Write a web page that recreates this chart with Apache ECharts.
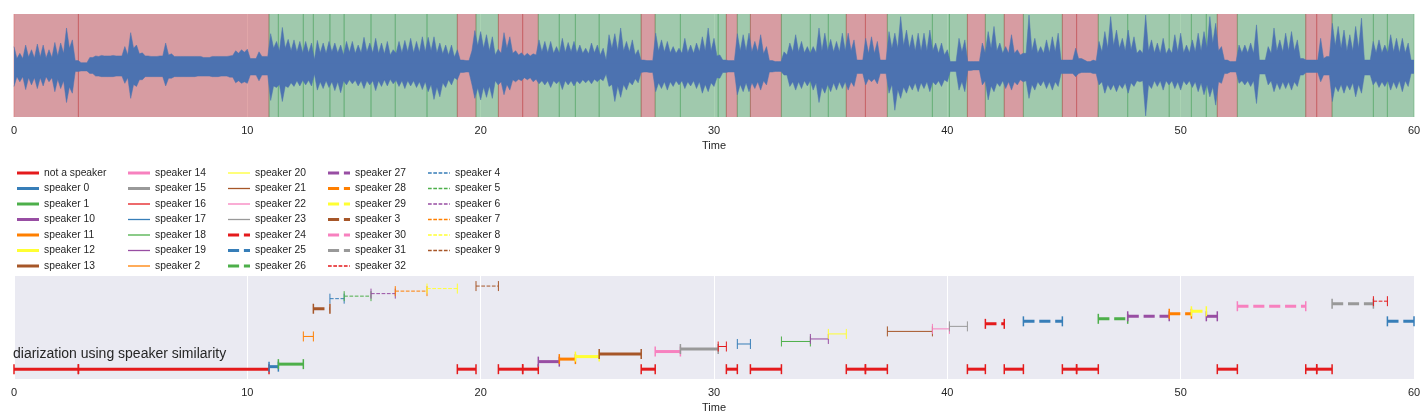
<!DOCTYPE html>
<html>
<head>
<meta charset="utf-8">
<script src="https://cdn.jsdelivr.net/npm/echarts@6/dist/echarts.min.js"></script>
<style>
html, body { margin: 0; padding: 0; background: #fff; }
#main { width: 1428px; height: 420px; }
</style>
</head>
<body>
<div id="main"></div>
<script>
// waveform envelope: a peak every 0.25 s and the dip between two peaks
var timeStep = 0.25;
var upperPeak = [
    0.38,0.25,0.41,0.32,0.43,0.41,0.32,0.46,0.45,0.74, 0.51,0.11,0.07,0.17,0.20,0.21,0.20,0.21,0.20,0.38,
    0.65,0.41,0.26,0.20,0.19,0.20,0.45,0.24,0.19,0.19, 0.19,0.19,0.19,0.17,0.19,0.19,0.19,0.20,0.30,0.32,
    0.33,0.15,0.28,0.19,0.63,0.48,0.75,0.52,
    0.51,0.48,0.48,0.45,0.50,0.45,0.48,0.45,0.41,0.48, 0.48,0.41,0.56,0.45,0.54,0.45,0.48,0.32,0.48,0.50,
    0.54,0.48,0.57,0.56,0.57,0.45,0.41,0.41,0.32,0.12, 0.11,0.69,0.67,0.61,0.57,0.33,0.65,0.57,0.30,0.26,
    0.25,0.24,0.51,0.48,0.48,0.38,0.54,0.46,
    0.48,0.41,0.35,0.45,0.41,0.35,0.61,0.63,0.74,0.48, 0.51,0.32,0.12,0.11,0.64,0.51,0.48,0.38,0.35,0.54,
    0.41,0.45,0.57,0.74,0.54,0.22,0.12,0.11,0.63,0.61, 0.64,0.48,0.61,0.38,0.11,0.09,0.28,0.45,0.61,0.48,
    0.38,0.38,0.74,0.64,0.52,0.48,0.64,0.64,
    0.51,0.12,0.54,0.57,0.48,0.12,0.67,0.64,0.96,0.70, 0.61,0.64,0.64,0.70,0.45,0.45,0.32,0.09,0.54,0.51,
    0.09,0.09,0.45,0.67,0.77,0.45,0.38,0.61,0.32,0.25, 0.99,0.54,0.38,0.51,0.57,0.64,0.12,0.12,0.35,0.15,
    0.09,0.12,0.48,0.67,0.96,0.70,0.54,0.70,
    0.57,0.32,0.99,0.51,0.45,0.54,0.35,0.61,0.64,0.41, 0.51,0.64,0.67,0.96,0.83,0.38,0.12,0.09,0.41,0.41,
    0.45,0.80,0.12,0.38,0.74,0.51,0.64,0.67,0.51,0.15, 0.12,0.12,0.54,0.19,0.83,0.77,0.70,0.61,0.77,0.93,
    0.12,0.48,0.51,0.41,0.61,0.54,0.54,0.45,0.12
];
var upperDip = [
    0.15,0.15,0.18,0.16,0.18,0.16,0.17,0.20,0.25,0.35, 0.11,0.07,0.07,0.17,0.19,0.20,0.20,0.20,0.20,0.22,
    0.35,0.24,0.20,0.19,0.19,0.20,0.22,0.19,0.19,0.19, 0.19,0.19,0.17,0.17,0.19,0.19,0.19,0.21,0.25,0.27,
    0.15,0.15,0.19,0.19,0.35,0.30,0.35,0.30,
    0.28,0.26,0.26,0.13,0.26,0.25,0.28,0.26,0.22,0.27, 0.25,0.26,0.28,0.26,0.25,0.24,0.22,0.25,0.26,0.28,
    0.26,0.27,0.28,0.30,0.26,0.24,0.22,0.18,0.12,0.11, 0.30,0.40,0.35,0.30,0.22,0.25,0.35,0.25,0.22,0.20,
    0.20,0.22,0.28,0.26,0.25,0.25,0.27,0.28,
    0.26,0.25,0.24,0.26,0.22,0.12,0.35,0.30,0.30,0.28, 0.22,0.12,0.11,0.11,0.30,0.28,0.26,0.25,0.25,0.26,
    0.25,0.28,0.30,0.30,0.20,0.12,0.11,0.11,0.30,0.30, 0.28,0.28,0.24,0.11,0.09,0.09,0.22,0.28,0.28,0.26,
    0.25,0.26,0.30,0.30,0.28,0.28,0.30,0.30,
    0.12,0.12,0.25,0.25,0.12,0.12,0.35,0.35,0.40,0.35, 0.30,0.30,0.30,0.30,0.25,0.22,0.09,0.09,0.28,0.09,
    0.09,0.09,0.25,0.35,0.30,0.25,0.25,0.25,0.22,0.25, 0.30,0.25,0.25,0.26,0.28,0.12,0.12,0.12,0.15,0.12,
    0.09,0.10,0.28,0.35,0.40,0.35,0.30,0.32,
    0.25,0.25,0.30,0.26,0.25,0.24,0.25,0.28,0.26,0.26, 0.28,0.30,0.35,0.45,0.30,0.12,0.09,0.09,0.26,0.26,
    0.25,0.12,0.12,0.25,0.30,0.28,0.30,0.30,0.15,0.12, 0.12,0.12,0.15,0.19,0.40,0.35,0.30,0.30,0.35,0.12,
    0.12,0.26,0.26,0.26,0.28,0.26,0.26,0.12
];
var lowerPeak = [
    -0.39,-0.30,-0.45,-0.36,-0.43,-0.38,-0.30,-0.49,-0.43,-0.70, -0.52,-0.10,-0.09,-0.14,-0.19,-0.20,-0.20,-0.20,-0.19,-0.33,
    -0.62,-0.39,-0.26,-0.20,-0.20,-0.20,-0.38,-0.23,-0.20,-0.20, -0.20,-0.20,-0.19,-0.19,-0.20,-0.20,-0.19,-0.21,-0.32,-0.33,
    -0.33,-0.17,-0.28,-0.17,-0.66,-0.41,-0.68,-0.41,
    -0.39,-0.38,-0.36,-0.38,-0.46,-0.43,-0.41,-0.47,-0.51,-0.36, -0.34,-0.38,-0.43,-0.36,-0.47,-0.39,-0.38,-0.34,-0.39,-0.43,
    -0.38,-0.41,-0.45,-0.49,-0.64,-0.59,-0.41,-0.36,-0.26,-0.12, -0.11,-0.62,-0.65,-0.60,-0.62,-0.36,-0.55,-0.46,-0.30,-0.28,
    -0.26,-0.30,-0.34,-0.36,-0.41,-0.34,-0.45,-0.36,
    -0.38,-0.34,-0.32,-0.34,-0.30,-0.28,-0.39,-0.68,-0.60,-0.46, -0.36,-0.32,-0.11,-0.12,-0.49,-0.43,-0.46,-0.39,-0.36,-0.43,
    -0.38,-0.43,-0.52,-0.49,-0.39,-0.23,-0.12,-0.11,-0.55,-0.49, -0.49,-0.43,-0.46,-0.36,-0.11,-0.10,-0.17,-0.39,-0.46,-0.43,
    -0.38,-0.46,-0.70,-0.52,-0.49,-0.46,-0.43,-0.46,
    -0.39,-0.14,-0.36,-0.30,-0.34,-0.14,-0.52,-0.85,-0.62,-0.52, -0.46,-0.49,-0.43,-0.49,-0.36,-0.39,-0.30,-0.10,-0.46,-0.49,
    -0.08,-0.07,-0.36,-0.65,-0.49,-0.39,-0.43,-0.46,-0.36,-0.30, -0.62,-0.46,-0.38,-0.43,-0.46,-0.39,-0.14,-0.14,-0.20,-0.12,
    -0.12,-0.14,-0.36,-0.52,-0.46,-0.49,-0.43,-0.52,
    -0.39,-0.30,-0.96,-0.43,-0.39,-0.46,-0.36,-0.43,-0.46,-0.36, -0.41,-0.49,-0.55,-0.59,-0.75,-0.33,-0.14,-0.11,-0.33,-0.36,
    -0.39,-0.72,-0.15,-0.36,-0.49,-0.45,-0.43,-0.46,-0.39,-0.17, -0.12,-0.12,-0.30,-0.17,-0.68,-0.49,-0.52,-0.46,-0.59,-0.52,
    -0.17,-0.36,-0.41,-0.39,-0.46,-0.43,-0.49,-0.39,-0.14
];
var lowerDip = [
    -0.20,-0.20,-0.22,-0.22,-0.22,-0.20,-0.22,-0.25,-0.28,-0.40, -0.10,-0.09,-0.09,-0.14,-0.19,-0.20,-0.20,-0.19,-0.19,-0.22,
    -0.35,-0.26,-0.20,-0.20,-0.20,-0.20,-0.23,-0.20,-0.20,-0.20, -0.20,-0.19,-0.19,-0.19,-0.20,-0.19,-0.19,-0.21,-0.28,-0.30,
    -0.17,-0.17,-0.17,-0.17,-0.38,-0.35,-0.38,-0.32,
    -0.28,-0.27,-0.27,-0.15,-0.30,-0.28,-0.30,-0.30,-0.28,-0.26, -0.27,-0.28,-0.28,-0.28,-0.28,-0.26,-0.25,-0.27,-0.28,-0.28,
    -0.28,-0.30,-0.30,-0.35,-0.40,-0.32,-0.26,-0.22,-0.12,-0.11, -0.35,-0.42,-0.40,-0.38,-0.28,-0.30,-0.35,-0.26,-0.25,-0.22,
    -0.22,-0.25,-0.28,-0.28,-0.28,-0.28,-0.28,-0.28,
    -0.28,-0.26,-0.26,-0.25,-0.24,-0.15,-0.35,-0.38,-0.35,-0.30, -0.24,-0.12,-0.11,-0.12,-0.32,-0.30,-0.30,-0.28,-0.28,-0.30,
    -0.28,-0.30,-0.35,-0.32,-0.22,-0.12,-0.11,-0.11,-0.35,-0.32, -0.32,-0.30,-0.28,-0.11,-0.10,-0.10,-0.17,-0.30,-0.30,-0.28,
    -0.28,-0.32,-0.40,-0.35,-0.32,-0.30,-0.30,-0.30,
    -0.14,-0.14,-0.24,-0.24,-0.14,-0.14,-0.35,-0.45,-0.40,-0.35, -0.32,-0.32,-0.30,-0.30,-0.28,-0.26,-0.10,-0.10,-0.30,-0.08,
    -0.07,-0.07,-0.28,-0.38,-0.32,-0.28,-0.30,-0.30,-0.26,-0.28, -0.35,-0.30,-0.28,-0.30,-0.30,-0.14,-0.14,-0.14,-0.14,-0.12,
    -0.12,-0.14,-0.30,-0.35,-0.35,-0.35,-0.32,-0.32,
    -0.28,-0.28,-0.35,-0.28,-0.28,-0.28,-0.28,-0.30,-0.28,-0.28, -0.30,-0.32,-0.35,-0.40,-0.30,-0.14,-0.11,-0.11,-0.28,-0.28,
    -0.28,-0.15,-0.15,-0.28,-0.32,-0.30,-0.30,-0.30,-0.17,-0.12, -0.12,-0.12,-0.17,-0.17,-0.38,-0.35,-0.35,-0.32,-0.35,-0.17,
    -0.17,-0.28,-0.30,-0.28,-0.30,-0.28,-0.28,-0.14
];

// labels in legend order (the row of each label is its position here)
var speakerLabels = ['not a speaker','speaker 0','speaker 1','speaker 10','speaker 11','speaker 12','speaker 13',
    'speaker 14','speaker 15','speaker 16','speaker 17','speaker 18','speaker 19','speaker 2',
    'speaker 20','speaker 21','speaker 22','speaker 23','speaker 24','speaker 25','speaker 26',
    'speaker 27','speaker 28','speaker 29','speaker 3','speaker 30','speaker 31','speaker 32',
    'speaker 4','speaker 5','speaker 6','speaker 7','speaker 8','speaker 9'];

// diarization segments (seconds)
var segStart = [0, 2.76, 10.93, 11.33, 12.40, 12.83, 13.54, 14.15, 15.30, 16.34,
    17.70, 19.00, 19.80, 20.76, 21.80, 22.47, 23.37, 24.06, 25.08, 26.88,
    27.48, 28.56, 30.18, 30.53, 31.00, 31.56, 32.89, 34.13, 34.90, 35.67,
    36.49, 37.43, 39.36, 40.09, 40.86, 41.63, 42.44, 43.26, 44.93, 45.54,
    46.47, 47.73, 49.51, 50.46, 51.10, 51.57, 52.43, 55.36, 55.83, 56.49,
    58.26, 58.86];
var segEnd = [2.76, 10.93, 11.33, 12.40, 12.83, 13.54, 14.15, 15.30, 16.34, 17.70,
    19.00, 19.80, 20.76, 21.80, 22.47, 23.37, 24.06, 25.08, 26.88, 27.48,
    28.56, 30.18, 30.53, 31.00, 31.56, 32.89, 34.13, 34.90, 35.67, 36.49,
    37.43, 39.36, 40.09, 40.86, 41.63, 42.44, 43.26, 44.93, 45.54, 46.47,
    47.73, 49.51, 50.46, 51.10, 51.57, 52.43, 55.36, 55.83, 56.49, 58.26,
    58.86, 60.00];
var segLabel = ['not a speaker','not a speaker','speaker 0','speaker 1','speaker 2','speaker 3','speaker 4','speaker 5','speaker 6','speaker 7',
    'speaker 8','not a speaker','speaker 9','not a speaker','not a speaker','speaker 10','speaker 11','speaker 12','speaker 13','not a speaker',
    'speaker 14','speaker 15','speaker 16','not a speaker','speaker 17','not a speaker','speaker 18','speaker 19','speaker 20','not a speaker',
    'not a speaker','speaker 21','speaker 22','speaker 23','not a speaker','speaker 24','not a speaker','speaker 25','not a speaker','not a speaker',
    'speaker 26','speaker 27','speaker 28','speaker 29','speaker 27','not a speaker','speaker 30','not a speaker','not a speaker','speaker 31',
    'speaker 32','speaker 25'];

var chartTitle = 'diarization using speaker similarity';

var palette = ['#e41a1c','#377eb8','#4daf4a','#984ea3','#ff7f00','#ffff33','#a65628','#f781bf','#999999'];
var fontFam = '"Liberation Sans", Arial, sans-serif';
var textColor = '#262626';
var waveColor = '#4c72b0';

// style group: 0 thick solid, 1 thin solid, 2 thick dashed, 3 thin dashed
function lineKind(k) {
    var g = Math.floor(k / palette.length);
    var lw = (g === 0 || g === 2) ? 3 : 1;
    return { color: palette[k % palette.length], lw: lw, dash: g >= 2 ? [3.7 * lw, 1.6 * lw] : null };
}

function legendIcon(kind) {
    var h = kind.lw > 1 ? 3 : 1.3;
    if (!kind.dash) {
        return 'path://M0,0H22V' + h + 'H0Z';
    }
    var d = '', x = 0, on = kind.dash[0], off = kind.dash[1];
    while (x < 22) {
        var w = Math.min(on, 22 - x);
        d += 'M' + x.toFixed(2) + ',0h' + w.toFixed(2) + 'v' + h + 'h-' + w.toFixed(2) + 'z';
        x += on + off;
    }
    return 'path://' + d + 'M22,0z';
}

var chart = echarts.init(document.getElementById('main'));

// coloured background spans in the waveform panel
var spanData = [];
for (var i = 0; i < segStart.length; i++) {
    spanData.push([segStart[i], segEnd[i], 0, segLabel[i] === 'not a speaker' ? 0 : 1]);
}

function renderSpan(params, api) {
    var cs = params.coordSys;
    var x0 = api.coord([api.value(0), 0])[0];
    var x1 = api.coord([api.value(1), 0])[0];
    var rgb = api.value(3) ? '85,168,104' : '196,78,82';
    var edge = { stroke: 'rgba(' + rgb + ',0.5)', lineWidth: 1 };
    return {
        type: 'group',
        children: [
            { type: 'rect', shape: { x: x0, y: cs.y, width: x1 - x0, height: cs.height }, style: { fill: 'rgba(' + rgb + ',0.5)' } },
            { type: 'line', shape: { x1: x0, y1: cs.y, x2: x0, y2: cs.y + cs.height }, style: edge },
            { type: 'line', shape: { x1: x1, y1: cs.y, x2: x1, y2: cs.y + cs.height }, style: edge }
        ]
    };
}

function segRenderer(kind) {
    return function (params, api) {
        var p0 = api.coord([api.value(0), api.value(2)]);
        var p1 = api.coord([api.value(1), api.value(2)]);
        var capW = kind.lw > 1 ? 1.5 : 1;
        var main = { stroke: kind.color, lineWidth: kind.lw };
        if (kind.dash) main.lineDash = kind.dash;
        return {
            type: 'group',
            children: [
                { type: 'line', shape: { x1: p0[0], y1: p0[1], x2: p1[0], y2: p1[1] }, style: main },
                { type: 'line', shape: { x1: p0[0], y1: p0[1] - 5, x2: p0[0], y2: p0[1] + 5 }, style: { stroke: kind.color, lineWidth: capW } },
                { type: 'line', shape: { x1: p1[0], y1: p1[1] - 5, x2: p1[0], y2: p1[1] + 5 }, style: { stroke: kind.color, lineWidth: capW } }
            ]
        };
    };
}

// peaks at every step, dips half way between them
var upperData = [], lowerData = [];
for (var i = 0; i < upperPeak.length; i++) {
    upperData.push([i * timeStep, upperPeak[i]]);
    lowerData.push([i * timeStep, lowerPeak[i]]);
    if (i < upperDip.length) {
        upperData.push([(i + 0.5) * timeStep, upperDip[i]]);
        lowerData.push([(i + 0.5) * timeStep, lowerDip[i]]);
    }
}

var series = [
    {
        type: 'custom', name: 'spans', xAxisIndex: 0, yAxisIndex: 0,
        renderItem: renderSpan, data: spanData,
        encode: { x: [0, 1], y: 2 }, z: 1, silent: true
    },
    {
        type: 'line', xAxisIndex: 0, yAxisIndex: 0, data: upperData, symbol: 'none',
        lineStyle: { width: 0.5, color: waveColor }, areaStyle: { color: waveColor, opacity: 1, origin: -0.05 },
        z: 3, silent: true
    },
    {
        type: 'line', xAxisIndex: 0, yAxisIndex: 0, data: lowerData, symbol: 'none',
        lineStyle: { width: 0.5, color: waveColor }, areaStyle: { color: waveColor, opacity: 1, origin: 0.05 },
        z: 3, silent: true
    }
];

var legendCols = [[], [], [], [], []];
for (var k = 0; k < speakerLabels.length; k++) {
    var kind = lineKind(k);
    var rows = [];
    for (var i = 0; i < segLabel.length; i++) {
        if (segLabel[i] === speakerLabels[k]) rows.push([segStart[i], segEnd[i], k]);
    }
    series.push({
        type: 'custom', name: speakerLabels[k], xAxisIndex: 1, yAxisIndex: 1,
        renderItem: segRenderer(kind), data: rows,
        encode: { x: [0, 1], y: 2 },
        itemStyle: { color: kind.color }, z: 4, silent: true
    });
    legendCols[Math.floor(k / 7)].push({ name: speakerLabels[k], icon: legendIcon(kind) });
}

var colLeft = [17, 128, 228, 328, 428];
var legends = [];
for (var c = 0; c < legendCols.length; c++) {
    legends.push({
        data: legendCols[c], orient: 'vertical', left: colLeft[c], top: 167, padding: 0,
        itemWidth: 22, itemHeight: 12, itemGap: 3.5, selectedMode: false,
        symbolKeepAspect: true,
        textStyle: { fontSize: 10.3, lineHeight: 12, color: textColor, fontFamily: fontFam }
    });
}

function timeAxis(gridIndex) {
    return {
        type: 'value', gridIndex: gridIndex, min: 0, max: 60, interval: 10,
        name: 'Time', nameLocation: 'middle', nameGap: 23,
        nameTextStyle: { fontSize: 11, color: textColor, fontFamily: fontFam },
        axisLine: { show: false }, axisTick: { show: false },
        axisLabel: { fontSize: 11, color: textColor, fontFamily: fontFam, margin: 8 },
        splitLine: { show: true, lineStyle: { color: '#ffffff', width: 1 } }
    };
}

var option = {
    animation: false,
    backgroundColor: '#ffffff',
    grid: [
        { left: 14, top: 14, width: 1400, height: 103, show: true, backgroundColor: '#eaeaf2', borderWidth: 0 },
        { left: 14, top: 276, width: 1400, height: 103, show: true, backgroundColor: '#eaeaf2', borderWidth: 0 }
    ],
    xAxis: [timeAxis(0), timeAxis(1)],
    yAxis: [
        { type: 'value', gridIndex: 0, min: -0.98, max: 1.01, show: false, splitLine: { show: false } },
        { type: 'value', gridIndex: 1, min: -3.9, max: 37, show: false, splitLine: { show: false } }
    ],
    legend: legends,
    graphic: [
        {
            type: 'text', x: 13, y: 354, z: 10, silent: true,
            style: { text: chartTitle, fill: textColor, fontSize: 14, fontFamily: fontFam, verticalAlign: 'middle' }
        }
    ],
    series: series
};

chart.setOption(option);
</script>
</body>
</html>
